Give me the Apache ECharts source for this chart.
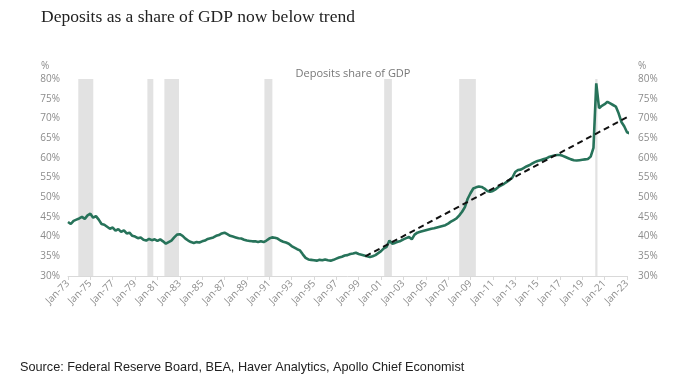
<!DOCTYPE html>
<html>
<head>
<meta charset="utf-8">
<script src="https://cdn.jsdelivr.net/npm/echarts@6/dist/echarts.min.js"></script>
<style>html,body{margin:0;padding:0;background:#fff;}#c{width:680px;height:387px;}</style>
</head>
<body>
<div id="c"></div>
<script>
// Quarterly deposits share of GDP (%), starting Q1 1973
var startYear = 1973;
var depositsShare = [
  43.7, 43.2, 44.0, 44.3,
  44.6, 45.0, 44.5, 45.4,
  45.8, 44.8, 45.2, 44.3,
  43.2, 43.0, 42.5, 42.0,
  42.3, 41.5, 41.9, 41.2,
  41.6, 40.8, 41.0, 40.2,
  40.0, 39.6, 39.8, 39.2,
  39.0, 39.4, 39.1, 39.3,
  38.9, 39.3, 38.8, 38.2,
  38.6, 39.0, 39.8, 40.5,
  40.6, 40.2, 39.5, 39.0,
  38.6, 38.4, 38.6, 38.5,
  38.8, 39.0, 39.4, 39.6,
  39.8, 40.2, 40.4, 40.8,
  41.0, 40.6, 40.2, 40.0,
  39.8, 39.6, 39.5, 39.2,
  39.0, 38.9, 38.8, 38.8,
  38.6, 38.8, 38.6, 39.0,
  39.5, 39.8, 39.7, 39.5,
  39.0, 38.7, 38.5, 38.2,
  37.6, 37.2, 36.8, 36.5,
  35.5, 34.6, 34.2, 34.1,
  34.0, 33.9, 34.1, 34.0,
  34.2, 34.0, 33.9, 34.1,
  34.4, 34.7, 34.9, 35.2,
  35.3, 35.6, 35.7, 35.9,
  35.6, 35.4, 35.2, 35.0,
  34.8, 35.0, 35.3, 35.8,
  36.3, 37.0, 37.4, 39.0,
  38.2, 38.4, 38.7, 38.9,
  39.3, 39.6, 39.9, 39.3,
  40.5, 41.0, 41.2, 41.4,
  41.6, 41.8, 42.0, 42.1,
  42.3, 42.5, 42.7, 42.9,
  43.3, 43.8, 44.2, 44.6,
  45.4, 46.3, 47.5, 49.6,
  51.0, 52.2, 52.5, 52.7,
  52.6, 52.2, 51.6, 51.4,
  51.6, 52.0, 52.6, 53.0,
  53.4, 53.9, 54.4, 55.0,
  56.4, 56.9, 57.0, 57.4,
  57.8, 58.1, 58.5, 58.9,
  59.2, 59.4, 59.6, 59.8,
  60.2, 60.4, 60.6, 60.7,
  60.7, 60.5, 60.2, 59.9,
  59.6, 59.4, 59.3, 59.4,
  59.5, 59.6, 59.7, 60.3,
  62.5, 78.9, 72.6, 73.2,
  73.6, 74.2, 73.8, 73.4,
  73.0, 71.3, 69.1, 68.0,
  66.5, 66.2
];
// Trend line endpoints [year, %]
var trendLine = [[1999.6, 35.0], [2024.0, 71.8]];
// Recession periods [start year, end year]
var recessions = [
  [1973.92, 1975.26], [1980.10, 1980.63], [1981.62, 1982.93],
  [1990.57, 1991.28], [2001.28, 2001.97], [2007.99, 2009.48], [2020.16, 2020.36]
];
// Axis settings
var xMin = 1973, xMax = 2023, xStep = 2;
var yMin = 30, yMax = 80, yStep = 5;

var seriesData = depositsShare.map(function (v, i) { return [startYear + i * 0.25, v]; });

var chart = echarts.init(document.getElementById('c'), null, {renderer: 'canvas'});
var labelColor = '#8c8c8c';
var yAxisCommon = {
  type: 'value', min: yMin, max: yMax, interval: yStep,
  splitLine: {show: false}, axisLine: {show: false}, axisTick: {show: false},
  axisLabel: {formatter: '{value}%', color: labelColor, fontSize: 10, fontFamily: 'Open Sans'}
};
chart.setOption({
  animation: false,
  backgroundColor: '#fff',
  title: [
    {text: 'Deposits as a share of GDP now below trend', left: 36, top: 3,
     textStyle: {fontFamily: 'Liberation Serif', fontWeight: 'normal', fontSize: 17.5, color: '#222'}},
    {text: 'Deposits share of GDP', left: 348, top: 63, textAlign: 'center',
     textStyle: {fontFamily: 'Open Sans', fontWeight: 'normal', fontSize: 11, color: '#777'}},
    {text: 'Source: Federal Reserve Board, BEA, Haver Analytics, Apollo Chief Economist', left: 15, top: 356,
     textStyle: {fontFamily: 'Liberation Sans', fontWeight: 'normal', fontSize: 12.7, color: '#222'}}
  ],
  graphic: [
    {type: 'text', left: 41, top: 61, style: {text: '%', fill: labelColor, fontSize: 10, fontFamily: 'Open Sans'}},
    {type: 'text', left: 638, top: 61, style: {text: '%', fill: labelColor, fontSize: 10, fontFamily: 'Open Sans'}}
  ],
  grid: {left: 68, right: 53, top: 79, bottom: 111},
  xAxis: {
    type: 'value', min: xMin, max: xMax, interval: xStep,
    splitLine: {show: false},
    axisLine: {lineStyle: {color: '#d9d9d9'}},
    axisTick: {length: 4, lineStyle: {color: '#d9d9d9'}},
    axisLabel: {rotate: 45, color: labelColor, fontSize: 10, fontFamily: 'Open Sans', margin: 6,
      formatter: function (v) { return 'Jan-' + String(v).slice(2); }}
  },
  yAxis: [
    Object.assign({position: 'left'}, yAxisCommon, {axisLabel: Object.assign({}, yAxisCommon.axisLabel, {margin: 8})}),
    Object.assign({position: 'right'}, yAxisCommon, {axisLabel: Object.assign({}, yAxisCommon.axisLabel, {margin: 11})})
  ],
  series: [
    {
      type: 'line', name: 'Deposits share of GDP', data: seriesData, showSymbol: false, clip: false,
      lineStyle: {color: '#27735a', width: 2.6}, z: 3,
      markArea: {silent: true, itemStyle: {color: '#e2e2e2'},
        data: recessions.map(function (r) { return [{xAxis: r[0], yAxis: yMax}, {xAxis: r[1], yAxis: yMin}]; })}
    },
    {
      type: 'line', name: 'Trend', data: trendLine, showSymbol: false, clip: false, z: 4,
      lineStyle: {color: '#111', width: 2, type: [6, 4]}
    }
  ]
});
</script>
</body>
</html>
